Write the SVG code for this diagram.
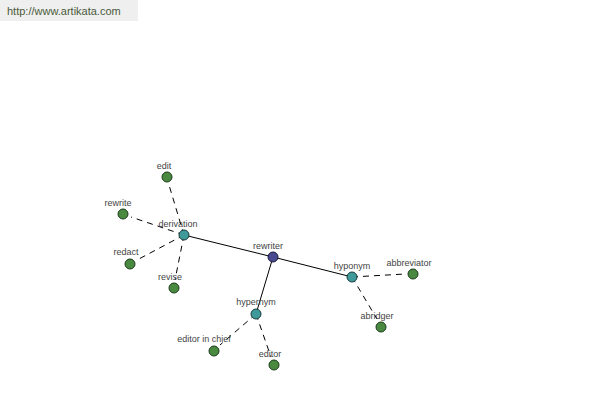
<svg xmlns="http://www.w3.org/2000/svg" width="600" height="400" viewBox="0 0 600 400">
<style>
.lbl{font-family:"Liberation Sans",Arial,sans-serif;font-size:9px;fill:#444;text-anchor:middle}
.hub{fill:#3f9a9a;stroke:#1a3a3a;stroke-width:1}
.leaf{fill:#4a8a40;stroke:#1a3a1a;stroke-width:1}
.root{fill:#4a4a90;stroke:#1a1a3a;stroke-width:1}
.solid{stroke:#000;stroke-width:1;fill:none}
.dash{stroke:#000;stroke-width:1;fill:none;stroke-dasharray:6,5}
</style>
<rect width="600" height="400" fill="#fff"/>
<rect x="0" y="0" width="138" height="21" fill="#efefef"/>
<text x="7" y="15" style="font-family:'Liberation Sans',Arial,sans-serif;font-size:11px;fill:#4a5a3a">http://www.artikata.com</text>
<g id="connectors">
<line class="solid" x1="273" y1="257" x2="184" y2="235"/>
<line class="solid" x1="273" y1="257" x2="352" y2="277"/>
<line class="solid" x1="273" y1="257" x2="256" y2="314"/>
<line class="dash" x1="184" y1="235" x2="169" y2="185"/>
<line class="dash" x1="184" y1="235" x2="131" y2="217"/>
<line class="dash" x1="184" y1="235" x2="137" y2="260"/>
<line class="dash" x1="184" y1="235" x2="175" y2="280"/>
<line class="dash" x1="352" y1="277" x2="405" y2="274"/>
<line class="dash" x1="352" y1="277" x2="377" y2="319"/>
<line class="dash" x1="256" y1="314" x2="220" y2="345"/>
<line class="dash" x1="256" y1="314" x2="271" y2="357"/>
</g>
<g id="n-rewriter"><circle class="root" cx="273" cy="257" r="5"/><text class="lbl" x="268" y="249">rewriter</text></g>
<g id="n-derivation"><circle class="hub" cx="184" cy="235" r="5"/><text class="lbl" x="178" y="227">derivation</text></g>
<g id="n-hyponym"><circle class="hub" cx="352" cy="277" r="5"/><text class="lbl" x="352" y="269">hyponym</text></g>
<g id="n-hypernym"><circle class="hub" cx="256" cy="314" r="5"/><text class="lbl" x="256" y="305">hypernym</text></g>
<g id="n-edit"><circle class="leaf" cx="167" cy="177" r="5"/><text class="lbl" x="164" y="169">edit</text></g>
<g id="n-rewrite"><circle class="leaf" cx="123" cy="214" r="5"/><text class="lbl" x="118" y="206">rewrite</text></g>
<g id="n-redact"><circle class="leaf" cx="130" cy="264" r="5"/><text class="lbl" x="126" y="255">redact</text></g>
<g id="n-revise"><circle class="leaf" cx="174" cy="288" r="5"/><text class="lbl" x="170" y="280">revise</text></g>
<g id="n-abbreviator"><circle class="leaf" cx="413" cy="274" r="5"/><text class="lbl" x="409" y="266">abbreviator</text></g>
<g id="n-abridger"><circle class="leaf" cx="381" cy="327" r="5"/><text class="lbl" x="377" y="319">abridger</text></g>
<g id="n-editor-in-chief"><circle class="leaf" cx="214" cy="351" r="5"/><text class="lbl" x="204" y="342">editor in chief</text></g>
<g id="n-editor"><circle class="leaf" cx="274" cy="365" r="5"/><text class="lbl" x="270" y="357">editor</text></g>
</svg>
